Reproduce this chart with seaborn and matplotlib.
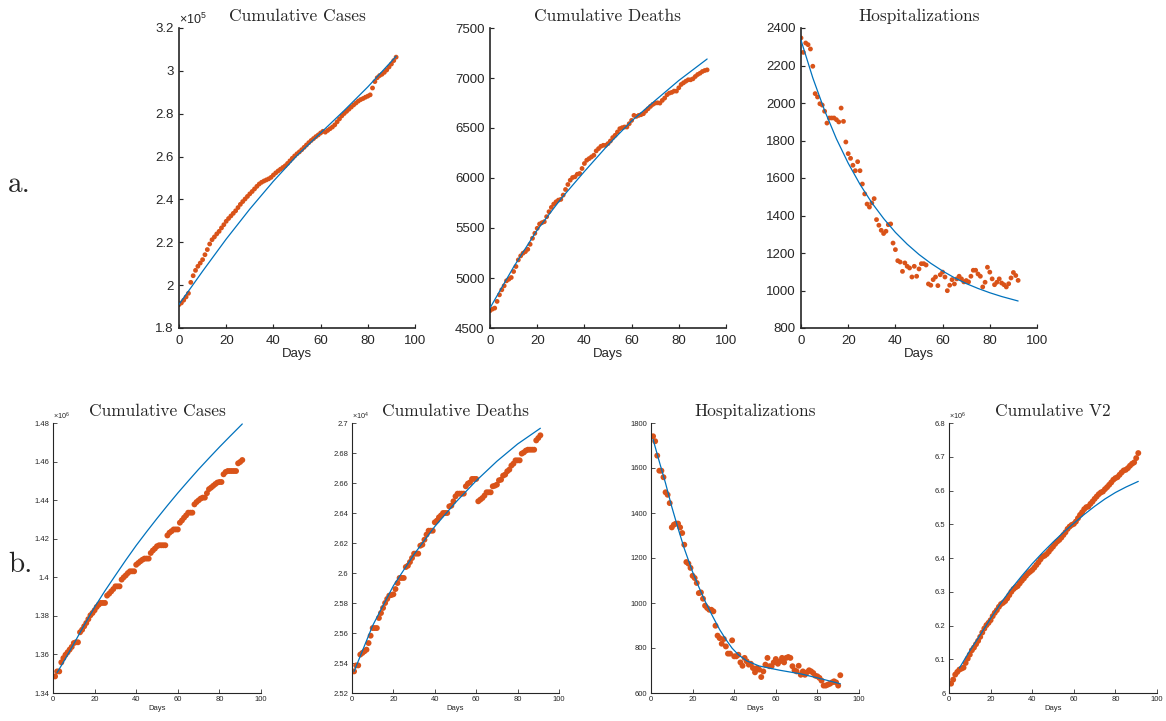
import numpy as np
import seaborn as sns
import matplotlib.pyplot as plt
from matplotlib.ticker import FuncFormatter, MultipleLocator

# Colors (MATLAB default)
DOT = "#D95319"
FIT = "#0072BD"
AXC = "#262626"

# ---------- row a: days 0..92 ----------
days_a = np.arange(0, 93)

cases_a = [
    190900, 191700, 193000, 194500, 196200, 201300, 204400, 206900, 208800, 210300,
    211900, 214200, 216600, 219200, 221200, 222500, 223900, 225100, 226700, 228200,
    229800, 231100, 232300, 233500, 234700, 236200, 237700, 239000, 240200, 241400,
    242600, 243700, 244900, 246100, 247200, 248000, 248600, 249100, 249600, 250300,
    251400, 252400, 253300, 254100, 254900, 255700, 256800, 258000, 259200, 260300,
    261300, 262200, 263200, 264300, 265400, 266500, 267500, 268400, 269300, 270100,
    271000, 271800, 271400, 272200, 273000, 273800, 274800, 276200, 277600, 279000,
    280100, 281100, 282100, 283100, 284100, 285000, 285900, 286600, 287100, 287700,
    288200, 288800, 292000, 295000, 296800, 297800, 298400, 299300, 300400, 301800,
    303200, 304800, 306400,
]
deaths_a = [
    4673, 4689, 4699, 4766, 4832, 4882, 4922, 4972, 4988, 5005,
    5065, 5115, 5181, 5221, 5248, 5264, 5287, 5337, 5397, 5447,
    5497, 5540, 5553, 5563, 5613, 5663, 5706, 5739, 5762, 5779,
    5786, 5829, 5885, 5935, 5978, 6005, 6012, 6038, 6045, 6095,
    6145, 6178, 6194, 6211, 6228, 6271, 6294, 6317, 6327, 6327,
    6344, 6370, 6404, 6427, 6460, 6493, 6503, 6510, 6510, 6543,
    6576, 6626, 6616, 6626, 6633, 6643, 6669, 6693, 6716, 6736,
    6749, 6752, 6749, 6776, 6799, 6832, 6849, 6856, 6869, 6869,
    6902, 6935, 6952, 6968, 6982, 6982, 6992, 7015, 7035, 7048,
    7065, 7075, 7081,
]
hosp_a = [
    2347, 2270, 2320, 2311, 2288, 2196, 2050, 2032, 1996, 1989,
    1956, 1893, 1920, 1920, 1920, 1911, 1899, 1973, 1902, 1792,
    1730, 1705, 1668, 1639, 1687, 1639, 1568, 1515, 1461, 1445,
    1467, 1490, 1378, 1348, 1321, 1304, 1316, 1351, 1355, 1253,
    1218, 1159, 1152, 1102, 1147, 1129, 1120, 1072, 1129, 1076,
    1115, 1143, 1143, 1136, 1035, 1028, 1058, 1072, 1026, 1084,
    1098, 1072, 999, 1028, 1058, 1035, 1062, 1076, 1062, 1046,
    1053, 1046, 1076, 1108, 1108, 1088, 1076, 1019, 1044, 1124,
    1098, 1062, 1031, 1044, 1062, 1040, 1031, 1019, 1036, 1067,
    1096, 1080, 1054,
]

# fitted curves, row a
fit_days_a = [0, 10, 20, 30, 40, 50, 60, 70, 80, 92]
cases_fit_a = [191000, 206500, 221500, 235500, 248500, 260500, 271000, 281500, 292500, 306800]
deaths_fit_a = [4700, 5110, 5480, 5790, 6065, 6330, 6570, 6775, 6975, 7190]
hosp_fit_days_a = [0, 5, 10, 15, 20, 25, 30, 35, 40, 45, 50, 55, 60, 65, 70, 75, 80, 85, 92]
hosp_fit_a = [2335, 2134, 1960, 1809, 1679, 1566, 1468, 1384, 1310, 1247,
              1192, 1145, 1104, 1068, 1037, 1011, 988, 968, 944]

# ---------- row b: days 1..91 ----------
days_b = np.arange(1, 92)

cases_b = [
    1348600, 1351200, 1351200, 1355900, 1358100, 1359800, 1361100, 1362500, 1363900, 1365900,
    1366300, 1366300, 1371500, 1372800, 1374600, 1376300, 1378300, 1380300, 1381500, 1382900,
    1384600, 1385800, 1386700, 1386700, 1386700, 1390500, 1391500, 1392700, 1393900, 1395300,
    1395300, 1395300, 1398800, 1400000, 1401000, 1402200, 1403100, 1403100, 1403100, 1406500,
    1407400, 1408300, 1409100, 1409700, 1409700, 1409700, 1412600, 1413900, 1414900, 1416100,
    1416600, 1416600, 1416600, 1416600, 1421700, 1423100, 1423900, 1424800, 1424800, 1424800,
    1428300, 1429500, 1430900, 1432100, 1433500, 1433500, 1433500, 1437800, 1439000, 1439900,
    1440800, 1441300, 1441300, 1443600, 1445700, 1446500, 1447400, 1448300, 1449100, 1449400,
    1449400, 1453400, 1454600, 1455100, 1455100, 1455100, 1455100, 1455100, 1459100, 1459800,
    1460800,
]
deaths_b = [
    25344, 25384, 25384, 25456, 25467, 25478, 25489, 25533, 25582, 25633,
    25633, 25633, 25700, 25733, 25767, 25800, 25827, 25849, 25853, 25858,
    25893, 25933, 25967, 25967, 25967, 26040, 26049, 26073, 26100, 26129,
    26129, 26129, 26182, 26189, 26222, 26256, 26282, 26282, 26282, 26338,
    26349, 26371, 26384, 26400, 26400, 26400, 26444, 26449, 26478, 26511,
    26529, 26529, 26529, 26529, 26578, 26596, 26604, 26627, 26627, 26627,
    26478, 26489, 26500, 26516, 26538, 26538, 26538, 26578, 26582, 26589,
    26618, 26622, 26649, 26656, 26678, 26689, 26716, 26729, 26751, 26751,
    26751, 26796, 26804, 26816, 26822, 26822, 26822, 26822, 26884, 26900,
    26918,
]
hosp_b = [
    1741, 1719, 1655, 1588, 1588, 1559, 1492, 1481, 1444, 1336,
    1348, 1353, 1353, 1336, 1311, 1259, 1182, 1175, 1156, 1121,
    1111, 1089, 1044, 1047, 1019, 988, 978, 970, 970, 963,
    899, 855, 844, 819, 840, 807, 775, 775, 834, 763,
    763, 770, 736, 721, 756, 741, 726, 730, 711, 692,
    711, 704, 671, 696, 726, 756, 719, 719, 736, 751,
    730, 741, 756, 736, 756, 760, 756, 719, 701, 696,
    721, 681, 696, 681, 692, 701, 696, 689, 677, 674,
    667, 655, 633, 633, 637, 641, 647, 652, 647, 633,
    679,
]
v2_b = [
    6027700, 6039600, 6054500, 6062400, 6069300, 6072300, 6075200, 6089100, 6102000, 6113900,
    6126700, 6134700, 6144600, 6154500, 6166300, 6179200, 6191100, 6201000, 6207900, 6215800,
    6227700, 6237600, 6245500, 6255400, 6263400, 6267300, 6272300, 6280200, 6290100, 6300000,
    6307900, 6312900, 6316800, 6324800, 6332700, 6339600, 6347500, 6354500, 6359400, 6364400,
    6371300, 6379200, 6387100, 6396000, 6404000, 6406900, 6411900, 6418800, 6426700, 6433700,
    6441600, 6448500, 6453500, 6460400, 6468300, 6476200, 6486100, 6493100, 6498000, 6501000,
    6507900, 6517800, 6527700, 6535600, 6544600, 6550500, 6552500, 6560400, 6567300, 6575200,
    6582200, 6589100, 6594100, 6597000, 6604000, 6609900, 6616800, 6623800, 6631700, 6636600,
    6639600, 6646500, 6653500, 6659400, 6661400, 6666300, 6673300, 6679200, 6683200, 6696000,
    6710900,
]

# fitted curves, row b
cases_fit_days_b = [2, 5, 10, 15, 20, 25, 30, 35, 40, 45, 50, 55, 60, 65, 70, 75, 80, 85, 91]
cases_fit_b = [1350600, 1356000, 1365500, 1375200, 1384500, 1393000, 1401000, 1408900, 1416500,
               1423600, 1430500, 1437200, 1443700, 1449900, 1456000, 1461800, 1467500, 1473000, 1479500]
deaths_fit_days_b = [1, 10, 20, 30, 40, 50, 60, 70, 80, 91]
deaths_fit_b = [25344, 25650, 25915, 26125, 26310, 26470, 26615, 26745, 26860, 26965]
hosp_fit_days_b = [1, 4, 7, 10, 13, 16, 20, 23, 26, 29, 33, 36, 39, 42, 46, 52, 62, 72, 81, 91]
hosp_fit_b = [1727, 1628, 1532, 1427, 1332, 1242, 1138, 1071, 1008, 952,
              882, 838, 799, 770, 743, 720, 701, 685, 665, 641]
v2_fit_days_b = [5, 10, 15, 20, 25, 30, 35, 40, 45, 50, 55, 60, 65, 70, 75, 80, 85, 91]
v2_fit_b = [6074000, 6125000, 6172000, 6221000, 6267000, 6309000, 6347000, 6383000, 6416000,
            6447000, 6476000, 6503000, 6529000, 6553000, 6575000, 6594000, 6610000, 6627000]

W, H = 1166, 721
sns.set_style("white")
plt.rcParams["font.family"] = ["Liberation Sans", "DejaVu Sans"]
plt.rcParams["mathtext.fontset"] = "custom"
plt.rcParams["mathtext.rm"] = "Liberation Sans"
fig = plt.figure(figsize=(W / 100, H / 100), dpi=100)


def box(l, r, t, b):
    return [l / W, (H - b) / H, (r - l) / W, (b - t) / H]


def panel(rect, x, y, fx, fy, title, ylim, ystep, scale, exp, fs, ms, lw_ax, xpad, ypad):
    ax = fig.add_axes(rect)
    sns.scatterplot(x=x, y=y, ax=ax, color=DOT, s=ms, edgecolor="none", linewidth=0, zorder=2)
    sns.lineplot(x=fx, y=fy, ax=ax, color=FIT, linewidth=0.9, zorder=3)
    ax.set_xlim(0, 100)
    ax.set_ylim(*ylim)
    ax.xaxis.set_major_locator(MultipleLocator(20))
    ax.yaxis.set_major_locator(MultipleLocator(ystep))
    ax.yaxis.set_major_formatter(FuncFormatter(lambda v, p: f"{round(v / scale, 6):g}"))
    ax.spines[["top", "right"]].set_visible(False)
    for s in ["left", "bottom"]:
        ax.spines[s].set_color(AXC)
        ax.spines[s].set_linewidth(lw_ax)
    ax.tick_params(direction="in", length=3, width=lw_ax * 0.7, colors=AXC,
                   labelsize=fs, left=True, bottom=True)
    ax.tick_params(axis="x", pad=xpad)
    ax.tick_params(axis="y", pad=ypad)
    ax.set_xlabel("Days", fontsize=fs, color=AXC, labelpad=1)
    ax.set_ylabel("")
    ax.set_title(title, fontsize=12.5, family="cmr10", pad=5)
    if exp:
        ax.text(0.0, 1.004, r"$\times\mathregular{10^{%s}}$" % exp, transform=ax.transAxes,
                fontsize=fs * 0.95, color=AXC, ha="left", va="bottom")
    return ax


fa, ma = 9.5, 12
panel(box(179, 415, 28, 328), days_a, cases_a, fit_days_a, cases_fit_a,
      "Cumulative Cases", (180000, 320000), 20000, 1e5, "5", fa, ma, 1.2, 5, 4)
panel(box(490, 726, 28, 328), days_a, deaths_a, fit_days_a, deaths_fit_a,
      "Cumulative Deaths", (4500, 7500), 500, 1, None, fa, ma, 1.2, 5, 4)
panel(box(801, 1037, 28, 328), days_a, hosp_a, hosp_fit_days_a, hosp_fit_a,
      "Hospitalizations", (800, 2400), 200, 1, None, fa, ma, 1.2, 5, 4)

fb, mb = 5.5, 18
panel(box(53, 261, 423, 693), days_b, cases_b, cases_fit_days_b, cases_fit_b,
      "Cumulative Cases", (1340000, 1480000), 20000, 1e6, "6", fb, mb, 0.8, 2.5, 2.5)
panel(box(352, 559, 423, 693), days_b, deaths_b, deaths_fit_days_b, deaths_fit_b,
      "Cumulative Deaths", (25200, 27000), 200, 1e4, "4", fb, mb, 0.8, 2.5, 2.5)
panel(box(651, 859, 423, 693), days_b, hosp_b, hosp_fit_days_b, hosp_fit_b,
      "Hospitalizations", (600, 1800), 200, 1, None, fb, mb, 0.8, 2.5, 2.5)
panel(box(949, 1157, 423, 693), days_b, v2_b, v2_fit_days_b, v2_fit_b,
      "Cumulative V2", (6000000, 6800000), 100000, 1e6, "6", fb, mb, 0.8, 2.5, 2.5)

fig.text(8 / W, 1 - 185 / H, "a.", fontsize=21, family="cmr10", va="center", ha="left")
fig.text(8 / W, 1 - 565 / H, "b.", fontsize=21, family="cmr10", va="center", ha="left")

fig.savefig("out.png", dpi=100)
